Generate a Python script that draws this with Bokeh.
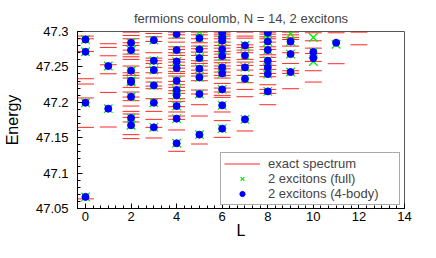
from bokeh.plotting import figure
from bokeh.models import Range1d, FixedTicker, Legend, LegendItem, ColumnDataSource
from bokeh.embed import file_html
from bokeh.resources import INLINE

title_text = "fermions coulomb, N = 14, 2 excitons"
x_label = "L"
y_label = "Energy"

x_ticks = [0, 2, 4, 6, 8, 10, 12, 14]
y_ticks = [47.05, 47.1, 47.15, 47.2, 47.25, 47.3]
y_tick_labels = ["47.05", "47.1", "47.15", "47.2", "47.25", "47.3"]

# exact spectrum, one list of energies per angular momentum L
exact_L0 = [47.0636, 47.1646, 47.2061, 47.2258, 47.2333, 47.2718, 47.2897, 47.2935]
exact_L1 = [47.1651, 47.2140, 47.2403, 47.2530, 47.2657, 47.2775, 47.2827]
exact_L2 = [47.1487, 47.1543, 47.1722, 47.1787, 47.1835, 47.1872, 47.1947, 47.2023,
            47.2074, 47.2145, 47.2211, 47.2342, 47.2380, 47.2417, 47.2512, 47.2606,
            47.2643, 47.2681, 47.2737, 47.2803, 47.2841, 47.2897, 47.2944, 47.2991]
exact_L3 = [47.1496, 47.1646, 47.1759, 47.1872, 47.2051, 47.2192, 47.2229, 47.2286,
            47.2342, 47.2417, 47.2493, 47.2549, 47.2587, 47.2624, 47.2700, 47.2859,
            47.2925, 47.2972]
exact_L4 = [47.1308, 47.1609, 47.1759, 47.1806, 47.1863, 47.1938, 47.2013, 47.2051,
            47.2126, 47.2164, 47.2211, 47.2248, 47.2295, 47.2371, 47.2408, 47.2436,
            47.2483, 47.2521, 47.2568, 47.2606, 47.2662, 47.2700, 47.2747, 47.2784,
            47.2850, 47.2906, 47.2953, 47.2991]
exact_L5 = [47.1411, 47.1806, 47.1966, 47.2117, 47.2173, 47.2305, 47.2371, 47.2408,
            47.2455, 47.2512, 47.2549, 47.2587, 47.2662, 47.2709, 47.2756, 47.2794,
            47.2841, 47.2897, 47.2953, 47.2991]
exact_L6 = [47.1505, 47.1741, 47.1863, 47.2070, 47.2098, 47.2145, 47.2201, 47.2267,
            47.2342, 47.2380, 47.2427, 47.2474, 47.2512, 47.2559, 47.2596, 47.2634,
            47.2681, 47.2718, 47.2765, 47.2803, 47.2850, 47.2897, 47.2935, 47.2963,
            47.2991]
exact_L7 = [47.1595, 47.2079, 47.2182, 47.2277, 47.2380, 47.2455, 47.2521, 47.2568,
            47.2606, 47.2700, 47.2737, 47.2775, 47.2812, 47.2906, 47.2935, 47.2991]
exact_L8 = [47.1966, 47.2126, 47.2182, 47.2248, 47.2361, 47.2408, 47.2465, 47.2521,
            47.2577, 47.2634, 47.2671, 47.2747, 47.2784, 47.2850, 47.2897, 47.2925,
            47.2963, 47.2991]
exact_L9 = [47.2192, 47.2408, 47.2446, 47.2549, 47.2700, 47.2794, 47.2887, 47.2916,
            47.2953, 47.2991]
exact_L10 = [47.2286, 47.2446, 47.2577, 47.2690, 47.2765, 47.2869, 47.2982]
exact_L11 = [47.2545, 47.2982]
exact_L12 = [47.2812, 47.2991]

exact_by_L = [exact_L0, exact_L1, exact_L2, exact_L3, exact_L4, exact_L5, exact_L6,
              exact_L7, exact_L8, exact_L9, exact_L10, exact_L11, exact_L12]

# 2 excitons (4-body)
body_L = [0, 0, 0, 0,
          1, 1,
          2, 2, 2, 2, 2, 2, 2, 2,
          3, 3, 3, 3, 3, 3,
          4, 4, 4, 4, 4, 4, 4, 4, 4, 4,
          5, 5, 5, 5, 5, 5, 5,
          6, 6, 6, 6, 6, 6, 6, 6, 6, 6,
          7, 7, 7, 7, 7,
          8, 8, 8, 8, 8, 8, 8,
          9, 9, 9,
          10, 10,
          11]
body_E = [47.0664, 47.1994, 47.2713, 47.2887,
          47.1910, 47.2512,
          47.1675, 47.1778, 47.2079, 47.2286, 47.2305, 47.2446, 47.2737, 47.2841,
          47.1646, 47.1994, 47.2239, 47.2455, 47.2587, 47.2878,
          47.1421, 47.1769, 47.1947, 47.2098, 47.2173, 47.2305, 47.2483, 47.2577, 47.2737, 47.2963,
          47.1543, 47.2117, 47.2352, 47.2474, 47.2624, 47.2747, 47.2906,
          47.1628, 47.1957, 47.2182, 47.2408, 47.2493, 47.2653, 47.2747, 47.2869, 47.2916, 47.2982,
          47.1759, 47.2333, 47.2493, 47.2662, 47.2803,
          47.2154, 47.2399, 47.2493, 47.2587, 47.2737, 47.2859, 47.2982,
          47.2427, 47.2681, 47.2859,
          47.2624, 47.2709,
          47.2841]

# 2 excitons (full)
full_L = [0, 0, 0, 0,
          1, 1,
          2, 2, 2, 2, 2, 2, 2, 2,
          3, 3, 3, 3, 3, 3,
          4, 4, 4, 4, 4, 4, 4, 4, 4, 4,
          5, 5, 5, 5, 5, 5, 5, 5,
          6, 6, 6, 6, 6, 6, 6, 6, 6, 6,
          7, 7, 7, 7, 7,
          8, 8, 8, 8, 8, 8, 8, 8,
          9, 9, 9, 9,
          10, 10, 10,
          11]
full_E = [47.0664, 47.1994, 47.2713, 47.2887,
          47.1910, 47.2512,
          47.1675, 47.1778, 47.2079, 47.2286, 47.2305, 47.2446, 47.2737, 47.2841,
          47.1646, 47.1994, 47.2239, 47.2455, 47.2587, 47.2878,
          47.1421, 47.1769, 47.1947, 47.2098, 47.2173, 47.2305, 47.2483, 47.2577, 47.2737, 47.2963,
          47.1543, 47.2117, 47.2352, 47.2474, 47.2624, 47.2747, 47.2906, 47.2995,
          47.1628, 47.1957, 47.2182, 47.2408, 47.2493, 47.2653, 47.2747, 47.2869, 47.2916, 47.2982,
          47.1759, 47.2333, 47.2493, 47.2662, 47.2803,
          47.2154, 47.2399, 47.2493, 47.2587, 47.2737, 47.2859, 47.2906, 47.2982,
          47.2427, 47.2681, 47.2859, 47.2965,
          47.2575, 47.2709, 47.2916,
          47.2820]

half_width = 0.37
ex_L, ex_E = [], []
for L, energies in enumerate(exact_by_L):
    for e in energies:
        ex_L.append(L)
        ex_E.append(e)
exact_src = ColumnDataSource(dict(x0=[l - half_width for l in ex_L],
                                  x1=[l + half_width for l in ex_L],
                                  y=ex_E))

FONT = "Liberation Sans"

p = figure(width=420, height=242, output_backend="svg", toolbar_location=None,
           x_range=Range1d(-0.35, 14), y_range=Range1d(47.05, 47.3),
           min_border_left=72, min_border_right=16, min_border_top=31,
           min_border_bottom=34)
p.background_fill_color = "white"
p.border_fill_color = "white"
p.grid.visible = False
p.outline_line_color = "#555555"
p.outline_line_width = 1

p.title.text = title_text
p.title.align = "center"
p.title.text_font = FONT
p.title.text_font_size = "13px"
p.title.text_font_style = "normal"
p.title.standoff = 12

seg = p.segment(x0="x0", x1="x1", y0="y", y1="y", source=exact_src,
                line_color="#ff0000", line_width=1, line_alpha=0.85)
xs = p.scatter(full_L, full_E, marker="x", size=12, line_color="#00ee00", line_width=1.3)
dots = p.scatter(body_L, body_E, marker="circle", size=7, fill_color="#0000ff",
                 line_color="#0000ff")

p.xaxis.ticker = FixedTicker(ticks=x_ticks,
                             minor_ticks=[i / 3 for i in range(0, 43)])
p.yaxis.ticker = FixedTicker(ticks=y_ticks,
                             minor_ticks=[47.05 + i * 0.01 for i in range(26)])
p.yaxis.major_label_overrides = {t: s for t, s in zip(y_ticks, y_tick_labels)}

for ax in (p.xaxis[0], p.yaxis[0]):
    ax.axis_line_color = "black"
    ax.major_tick_in = 5
    ax.major_tick_out = 0
    ax.minor_tick_in = 3
    ax.minor_tick_out = 0
    ax.major_tick_line_color = "black"
    ax.minor_tick_line_color = "black"
    ax.major_label_text_font = FONT
    ax.major_label_text_font_size = "13px"
    ax.major_label_text_color = "black"
    ax.axis_label_text_font = FONT
    ax.axis_label_text_font_size = "16px"
    ax.axis_label_text_font_style = "normal"
    ax.axis_label_text_color = "black"

p.xaxis.axis_label = x_label
p.yaxis.axis_label = y_label
p.xaxis.major_label_standoff = 3
p.xaxis.axis_label_standoff = -2
p.yaxis.major_label_standoff = 9
p.yaxis.axis_label_standoff = 12

legend = Legend(items=[LegendItem(label="exact spectrum", renderers=[seg]),
                       LegendItem(label="2 excitons (full)", renderers=[xs]),
                       LegendItem(label="2 excitons (4-body)", renderers=[dots])],
                location=(143, 3))
legend.label_text_font = FONT
legend.label_text_font_size = "13px"
legend.glyph_width = 36
legend.glyph_height = 13
legend.label_height = 12
legend.label_width = 128
legend.label_standoff = 8
legend.spacing = 0
legend.padding = 3
legend.margin = 0
legend.border_line_color = "#555555"
legend.border_line_width = 1
legend.background_fill_color = "white"
legend.background_fill_alpha = 1
p.add_layout(legend, "center")

open("out.html", "w").write(file_html(p, INLINE))
